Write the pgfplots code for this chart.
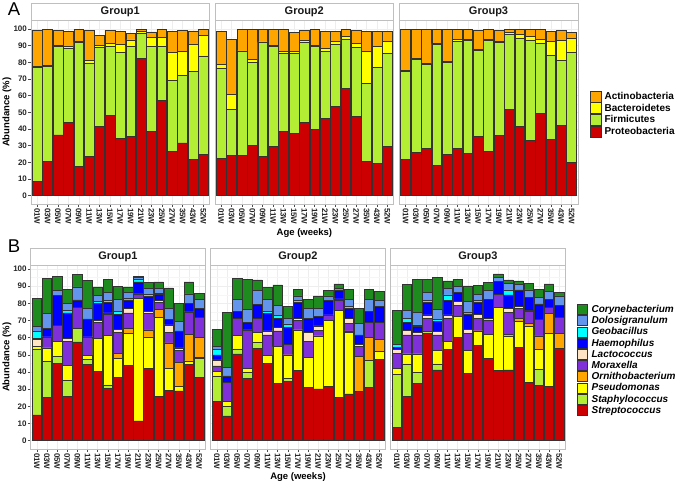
\documentclass[border=0pt]{standalone}
\usepackage{pgfplots}
\usepackage{pgfplotstable}
\pgfplotsset{compat=1.18}
\usepackage{fontspec}
\setmainfont{Liberation Sans}

\definecolor{cAct}{HTML}{FFA500}
\definecolor{cBac}{HTML}{FFFF00}
\definecolor{cFir}{HTML}{B4EE34}
\definecolor{cPro}{HTML}{CC0000}
\definecolor{cCor}{HTML}{1E8B1E}
\definecolor{cDol}{HTML}{6495ED}
\definecolor{cGeo}{HTML}{00FFFF}
\definecolor{cHae}{HTML}{0000FF}
\definecolor{cLac}{HTML}{FFE4C4}
\definecolor{cMor}{HTML}{8030D8}
\definecolor{cOrn}{HTML}{FFA500}
\definecolor{cPse}{HTML}{FFFF00}
\definecolor{cSta}{HTML}{B4EE34}
\definecolor{cStr}{HTML}{CC0000}

% Panel A: cumulative tops (Proteobacteria, +Firmicutes, +Bacteroidetes, +Actinobacteria)
\pgfplotstableread{
x P F B A
0 8.4 77 77.6 99.5
1 20.5 77.5 78.2 100
2 36.5 89.6 90.2 99.2
3 43.8 88.5 89.6 98.7
4 17.6 92 92.4 100
5 23.5 79.5 81.2 99.3
6 41.5 89 90.2 96
7 48.2 89.7 91.2 99.4
8 34.5 86.2 90.7 98.4
9 35.8 89.6 93.5 97.6
10 82.2 97.6 98.8 100
11 38.8 89.6 95 98.3
12 57.2 89.6 94.8 99.7
13 26.4 69.3 85.8 98.6
14 31.7 72.3 86.8 99.2
15 21.7 74.4 91 98.9
16 24.6 83.9 96 99.8
}\tAone
\pgfplotstableread{
x P F B A
0 22.4 76.4 78.8 98.8
1 24.2 52 60.8 93.8
2 24.2 86.4 86.9 100
3 30.2 80.2 81.6 100
4 23.8 91.8 92.3 100
5 29.8 89.8 90.4 100
6 38.8 85.4 86.4 99.6
7 37.4 85.4 86.4 98
8 43.8 92 93 99
9 40 89.4 90.4 99.8
10 46.6 86.4 88.4 98.6
11 53.8 90.8 92.6 98.6
12 64.4 94 95.4 99.8
13 47.4 88.8 91.4 99
14 20.6 67.4 86.8 98.8
15 19.4 77 89.4 98.6
16 29.4 85.4 92.4 98.8
}\tAtwo
\pgfplotstableread{
x P F B A
0 21.8 74.4 75 99.8
1 25.8 81.8 82.4 100
2 28.2 78.8 79.4 100
3 18 90.8 91.4 100
4 25 80.2 80.8 100
5 28.2 92.8 93.8 99.6
6 25.4 93.4 93.8 100
7 35.8 87.4 88 99
8 26.8 93 93.8 100
9 36 92 92.8 99
10 51.8 97 98 100
11 41.8 94.4 96.6 99.8
12 33.2 93.4 95.8 99.8
13 49.4 91.4 93.8 99.8
14 34 84.2 92.4 98.8
15 42.4 81 93 99.4
16 19.8 85.8 94.4 98.2
}\tAthree

% Panel B: cumulative tops, Streptococcus at the bottom
\pgfplotstableread{
x St Sa Ps Or Mo La Ha Ge Do Co
0 15 53.5 55 55 55 58.8 59.5 63.5 66.5 83
1 25 46 54 54 60.5 60.5 65.5 65.5 74 94.5
2 45 49 58 58 67 67 84.5 84.5 87.5 95.5
3 26 35 44 44 58 59.5 74.5 76 80 88
4 57.5 65.5 65.5 65.5 77.5 77.5 82 82 89.5 97
5 44.5 47.5 49.8 49.8 60.5 60.5 71 71 77 93.5
6 40.5 40.5 59.5 59.5 69 70 80 81 84.5 89.5
7 30.5 32.5 61.5 61.5 73.5 74.5 80.5 81.5 86.5 94
8 37 37 48 51 63 65 73.5 75.5 82.5 90
9 44 44 62.5 65.5 74.5 77 82 83 86.5 89.5
10 11.5 11.5 82.8 82.8 85.5 85.5 92.5 94 95 95.8
11 42 42 60.5 64.5 74 75.5 84 85 88.5 92
12 26 26 72 76.5 80.5 81.5 85.5 86 88.5 92.5
13 29.5 29.5 42 57 63 67.5 70.5 70.5 77 89
14 29 29 31.5 45.5 52.5 54 64 64 69.5 80
15 44.5 44.5 46.5 62 75 75 80 80 85.5 92.5
16 37 48 48.3 60 72 72 77 77 82.5 86
}\tBone
\pgfplotstableread{
x St Sa Ps Or Mo La Ha Ge Do Co
0 22.7 37.7 40.2 40.2 43.5 47 50 53.3 55 64.9
1 14.4 19.8 22.7 22.7 33.8 33.8 37.7 37.7 42.7 74.8
2 50.5 53.4 61.2 61.2 71.3 71.3 75.1 75.1 82.5 94.6
3 36.3 39.6 42.1 42.1 64.5 64.5 68.7 68.7 76.5 94
4 53.8 57.1 62.9 62.9 71.3 71.3 79.4 79.4 87.4 93.6
5 45 45 49.5 49.5 61.6 63.9 74.2 75.5 82.3 89.1
6 33.4 33.4 54.8 54.8 63.9 66 71.3 73 79 90.7
7 34.4 36.3 49.9 49.9 56.3 56.3 66 68 71.3 78.1
8 40.8 40.8 64.5 64.5 69.9 71.3 80.4 81.9 84.3 88.2
9 30.9 30.9 48.5 48.5 57.7 62.9 71.3 71.3 77.1 82.5
10 30.1 30.1 61 61 64.1 66.8 72.2 72.2 77.1 84.3
11 31.8 31.8 69.9 69.9 73.2 73.2 81.9 81.9 84.3 87.4
12 25.2 25.2 75.7 75.7 81.9 82.6 87.4 87.4 88.7 91.3
13 27.2 27.2 62.9 64 68.3 71.3 77.1 78 82.5 88.2
14 28.9 28.9 28.9 49.3 55.1 56.3 61.6 61.6 68.3 77.1
15 30.9 46.6 46.6 60.2 68.7 68.7 75.1 75.1 82.3 88.2
16 47.4 47.4 52.2 59 68.7 68.7 78.1 78.1 81.9 86.8
}\tBtwo
\pgfplotstableread{
x St Sa Ps Or Mo La Ha Ge Do Co
0 7.8 38.8 42.1 42.1 50.9 53.2 54.5 56.3 56.3 75.7
1 26 44.7 50.5 50.5 61.6 64.1 68.7 71.3 76.1 91.1
2 33.4 39.6 50.5 50.5 61.6 62.9 66.8 67.5 74.6 94
3 62.5 63.5 63.5 63.5 71.3 73.2 80.4 81.5 86.2 94
4 41.2 44.7 52.4 52.4 61.6 63.5 69.3 70.7 76.5 95
5 53.2 53.2 57.7 57.7 71.3 73.2 81.9 84.9 88.7 93
6 60.2 60.2 72.2 72.2 79 81 86.2 86.2 89.7 94
7 39.2 39.2 52.4 52.4 62.5 64.9 73.8 75 81 90.1
8 55.3 55.3 63.9 63.9 71.3 73.6 80.4 81.8 85.4 90.3
9 48 48 61.9 61.9 70.3 71.3 82.5 82.5 87.4 92
10 41 41 77.7 77.7 85.4 85.4 92.6 92.6 95.1 97.1
11 41.2 41.2 61 62.1 74.6 77.1 84.9 87.8 91.7 93.6
12 54.4 54.4 69.3 71.3 77.1 78.1 87.8 87.8 91.1 93
13 34 34 66.8 68.3 75.1 76.1 83.3 83.3 87.8 91.7
14 32.4 41.6 53.2 61 70.7 70.7 79.6 79.6 83.5 88.2
15 31.8 31.8 62.5 74.2 77.7 77.7 82.5 82.5 86.8 91.3
16 53.8 53.8 53.8 62.5 71.7 71.7 79 79 84.3 86.2
}\tBthree

\pgfplotsset{
  facet/.style={
    scale only axis, clip=false,
    xmin=-0.6, xmax=16.6,
    ybar, bar width=0.94, bar shift=0pt,
    xtick={0,...,16},
    xticklabels={01W,03W,05W,07W,09W,11W,13W,15W,17W,19W,21W,23W,25W,27W,35W,43W,52W},
    xticklabel style={rotate=-90, anchor=west, font=\fontsize{8}{9}\selectfont\bfseries, text=black!85, inner sep=1.2pt},
    yticklabel style={font=\fontsize{8}{9}\selectfont\bfseries, text=black!85, inner sep=1.2pt},
    ytick={0,10,...,100},
    minor ytick={5,15,...,95},
    grid=both,
    major grid style={gray!13, line width=0.4pt},
    minor grid style={gray!7, line width=0.3pt},
    axis line style={gray!50, line width=0.6pt},
    tick align=outside, major tick length=2.7pt, minor tick length=0pt,
    tick style={gray!60!black, line width=0.5pt},
    xtick pos=left, ytick pos=left,
    /pgf/number format/assume math mode=true,
  },
  noy/.style={yticklabels={}, ytick style={draw=none}},
  seg/.style={fill=#1, draw=black!80, line width=0.5pt},
}

\newcommand{\strip}[1]{%
  \draw[gray!50, line width=0.6pt, fill=white] (rel axis cs:0,1) rectangle (rel axis cs:1,1.0966);
  \node[font=\fontsize{11}{12}\selectfont\bfseries, text=black!90] at (rel axis cs:0.5,1.0483) {#1};
}
\newcommand{\barsA}[1]{%
  \addplot[seg=cAct] table[x=x,y=A] {#1};
  \addplot[seg=cBac] table[x=x,y=B] {#1};
  \addplot[seg=cFir] table[x=x,y=F] {#1};
  \addplot[seg=cPro] table[x=x,y=P] {#1};
}
\newcommand{\barsB}[1]{%
  \addplot[seg=cCor] table[x=x,y=Co] {#1};
  \addplot[seg=cDol] table[x=x,y=Do] {#1};
  \addplot[seg=cGeo] table[x=x,y=Ge] {#1};
  \addplot[seg=cHae] table[x=x,y=Ha] {#1};
  \addplot[seg=cLac] table[x=x,y=La] {#1};
  \addplot[seg=cMor] table[x=x,y=Mo] {#1};
  \addplot[seg=cOrn] table[x=x,y=Or] {#1};
  \addplot[seg=cPse] table[x=x,y=Ps] {#1};
  \addplot[seg=cSta] table[x=x,y=Sa] {#1};
  \addplot[seg=cStr] table[x=x,y=St] {#1};
}

\begin{document}
\begin{tikzpicture}
\useasboundingbox (0,0) rectangle (675pt,486pt);

% ---------------- Panel A ----------------
\begin{axis}[facet, width=178.5pt, height=183.3pt, ymin=-5, ymax=105,
  at={(31pt,282pt)}, anchor=south west]
  \barsA{\tAone}
  \strip{Group1}
\end{axis}
\begin{axis}[facet, noy, width=178.5pt, height=183.3pt, ymin=-5, ymax=105,
  at={(215pt,282pt)}, anchor=south west]
  \barsA{\tAtwo}
  \strip{Group2}
\end{axis}
\begin{axis}[facet, noy, width=178.5pt, height=183.3pt, ymin=-5, ymax=105,
  at={(399.3pt,282pt)}, anchor=south west,
  legend style={at={(axis description cs:1.068,0.491)}, anchor=west, draw=none, fill=none,
    inner sep=0pt, row sep=0pt, font=\fontsize{10}{11}\selectfont\bfseries,
    cells={anchor=west}, nodes={inner sep=0.3pt}},
  legend image code/.code={\draw[#1, line width=0.7pt] (0pt,-5.5pt) rectangle (11pt,5.5pt); \path (13.5pt,0pt);}]
  \barsA{\tAthree}
  \strip{Group3}
  \legend{Actinobacteria,Bacteroidetes,Firmicutes,Proteobacteria}
\end{axis}

% ---------------- Panel B ----------------
\begin{axis}[facet, width=174.5pt, height=183.2pt, ymin=-4.85, ymax=101.85,
  at={(30.7pt,37pt)}, anchor=south west]
  \barsB{\tBone}
  \strip{Group1}
\end{axis}
\begin{axis}[facet, noy, width=174.5pt, height=183.2pt, ymin=-4.85, ymax=101.85,
  at={(210.7pt,37pt)}, anchor=south west]
  \barsB{\tBtwo}
  \strip{Group2}
\end{axis}
\begin{axis}[facet, noy, width=174.5pt, height=183.2pt, ymin=-4.85, ymax=101.85,
  at={(390.7pt,37pt)}, anchor=south west,
  legend style={at={(axis description cs:1.0676,0.486)}, anchor=west, draw=none, fill=none,
    inner sep=0pt, row sep=0.5pt, font=\fontsize{10}{11}\selectfont\bfseries\itshape,
    cells={anchor=west}, nodes={inner sep=0.3pt}},
  legend image code/.code={\draw[#1, line width=0.7pt] (0pt,-5pt) rectangle (10pt,5pt); \path (13.5pt,0pt);}]
  \barsB{\tBthree}
  \strip{Group3}
  \legend{Corynebacterium,Dolosigranulum,Geobacillus,Haemophilus,Lactococcus,Moraxella,Ornithobacterium,Pseudomonas,Staphylococcus,Streptococcus}
\end{axis}

% ---------------- Labels ----------------
\node[font=\fontsize{18.5}{20}\selectfont] at (14pt,476.7pt) {A};
\node[font=\fontsize{18.5}{20}\selectfont] at (14pt,239.7pt) {B};
\node[font=\fontsize{9.5}{11}\selectfont\bfseries, rotate=90] at (7pt,373.7pt) {Abundance (\%)};
\node[font=\fontsize{9.5}{11}\selectfont\bfseries, rotate=90] at (7pt,128.6pt) {Abundance (\%)};
\node[font=\fontsize{9.5}{11}\selectfont\bfseries] at (304.4pt,253.3pt) {Age (weeks)};
\node[font=\fontsize{9.5}{11}\selectfont\bfseries] at (298pt,9.3pt) {Age (weeks)};
\end{tikzpicture}
\end{document}
